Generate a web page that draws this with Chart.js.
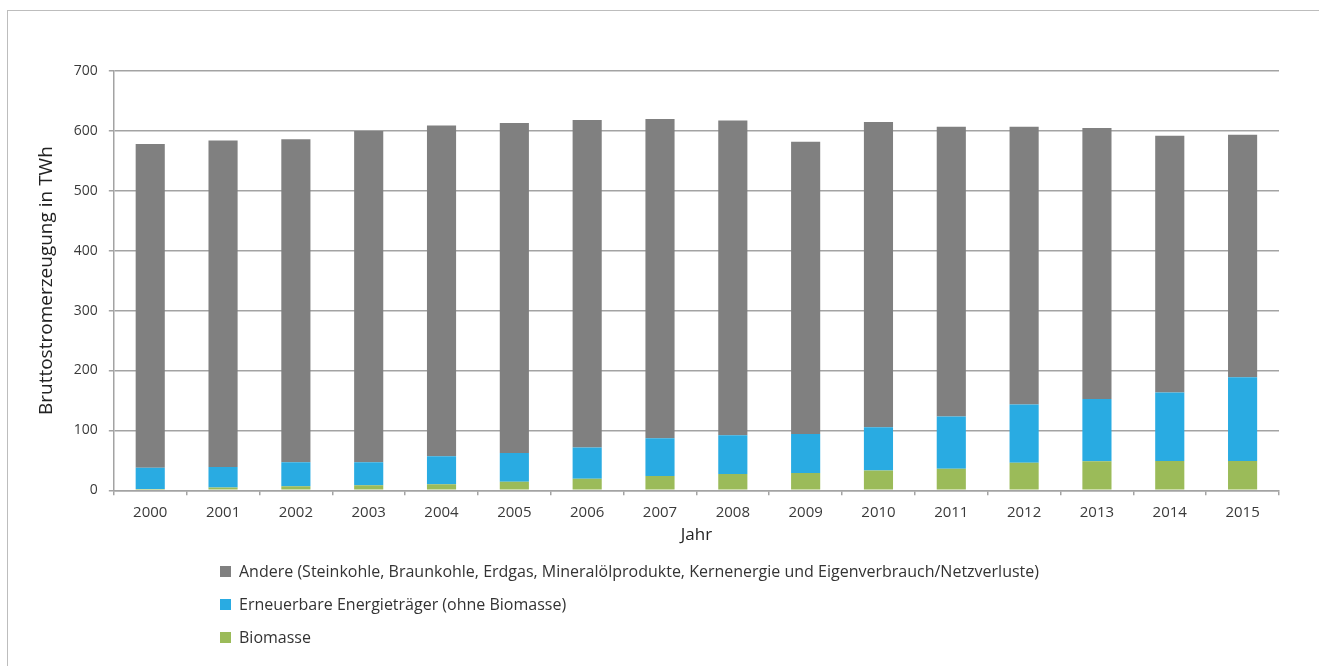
<!DOCTYPE html>
<html lang="de">
<head>
<meta charset="utf-8">
<title>Bruttostromerzeugung</title>
<script src="https://cdn.jsdelivr.net/npm/chart.js@4"></script>
<style>
  html, body { margin: 0; padding: 0; background: #fff; }
  body { width: 1319px; height: 666px; position: relative; overflow: hidden; font-family: "Open Sans", sans-serif; }
  #frame { position: absolute; left: 7px; top: 10px; right: -5px; bottom: -5px; border-top: 1px solid #bdbdbd; border-left: 1px solid #bdbdbd; }
  #chartWrap { position: absolute; left: 0; top: 0; width: 1319px; height: 666px; }
  #legend { position: absolute; left: 220px; top: 560px; }
  .legendRow { display: flex; align-items: center; height: 22px; margin-bottom: 11px; font-size: 16px; color: #333; }
  .legendBox { width: 11px; height: 11px; margin-right: 8px; }
</style>
</head>
<body>
<div id="frame"></div>
<div id="chartWrap"><canvas id="stromChart" width="1319" height="666"></canvas></div>
<div id="legend"></div>
<script>
const YEARS = ["2000", "2001", "2002", "2003", "2004", "2005", "2006", "2007",
  "2008", "2009", "2010", "2011", "2012", "2013", "2014", "2015"];

// TWh per year, stacked from the bottom up
const BIOMASSE = [2, 4.5, 6.7, 8.4, 10, 14, 19, 24, 27, 29, 33, 36, 46, 48.6, 49, 49];
const ERNEUERBARE = [35.6, 34.3, 39.9, 38.2, 46.7, 48.4, 52.3, 63, 65, 65, 72, 87, 97, 103.9, 114, 139.7];
const ANDERE = [540.4, 545.2, 539.4, 553.4, 552.3, 550.6, 546.7, 533, 525.5, 488, 510, 484, 464, 452.5, 429, 404.8];

const Y_TICKS = [0, 100, 200, 300, 400, 500, 600, 700];

const LABEL_ANDERE = "Andere (Steinkohle, Braunkohle, Erdgas, Mineralölprodukte, Kernenergie und Eigenverbrauch/Netzverluste)";
const LABEL_ERNEUERBARE = "Erneuerbare Energieträger (ohne Biomasse)";
const LABEL_BIOMASSE = "Biomasse";

const GRID = "#a3a3a3";
const TEXT = "#3a3a3a";
const FONT = "'Open Sans', sans-serif";

const ctx = document.getElementById("stromChart").getContext("2d");

const chart = new Chart(ctx, {
  type: "bar",
  data: {
    labels: YEARS,
    datasets: [
      { label: LABEL_BIOMASSE, data: BIOMASSE, backgroundColor: "#9bbb59" },
      { label: LABEL_ERNEUERBARE, data: ERNEUERBARE, backgroundColor: "#29abe2" },
      { label: LABEL_ANDERE, data: ANDERE, backgroundColor: "#808080" },
    ],
  },
  options: {
    responsive: false,
    animation: false,
    layout: { padding: { left: 35, right: 40, top: 71, bottom: 124 } },
    datasets: { bar: { categoryPercentage: 1.0, barPercentage: 0.4 } },
    plugins: {
      legend: { display: false },
      tooltip: { enabled: false },
    },
    scales: {
      x: {
        stacked: true,
        grid: {
          offset: true,
          drawOnChartArea: false,
          drawTicks: true,
          tickLength: 5,
          color: GRID,
          lineWidth: 1.5,
        },
        border: { color: GRID, width: 1.5 },
        ticks: { color: TEXT, padding: 8, font: { family: FONT, size: 15 } },
        title: {
          display: true,
          text: "Jahr",
          color: "#222",
          padding: { top: 0, bottom: 0 },
          font: { family: FONT, size: 17, lineHeight: 0.75 },
        },
      },
      y: {
        stacked: true,
        min: 0,
        max: 700,
        afterBuildTicks: (scale) => {
          scale.ticks = Y_TICKS.map((v) => ({ value: v }));
        },
        grid: { color: GRID, lineWidth: 1.5, tickLength: 5 },
        border: { color: GRID, width: 1.5 },
        ticks: { color: TEXT, padding: 11, font: { family: FONT, size: 14 } },
        title: {
          display: true,
          text: "Bruttostromerzeugung in TWh",
          color: "#222",
          padding: { top: 0, bottom: 5 },
          font: { family: FONT, size: 19 },
        },
      },
    },
  },
});

// legend in a single column below the axis, top series first
const legend = document.getElementById("legend");
chart.data.datasets.slice().reverse().forEach((ds) => {
  const row = document.createElement("div");
  row.className = "legendRow";
  const box = document.createElement("span");
  box.className = "legendBox";
  box.style.background = ds.backgroundColor;
  row.appendChild(box);
  const label = document.createElement("span");
  label.innerText = ds.label;
  row.appendChild(label);
  legend.appendChild(row);
});
</script>
</body>
</html>
